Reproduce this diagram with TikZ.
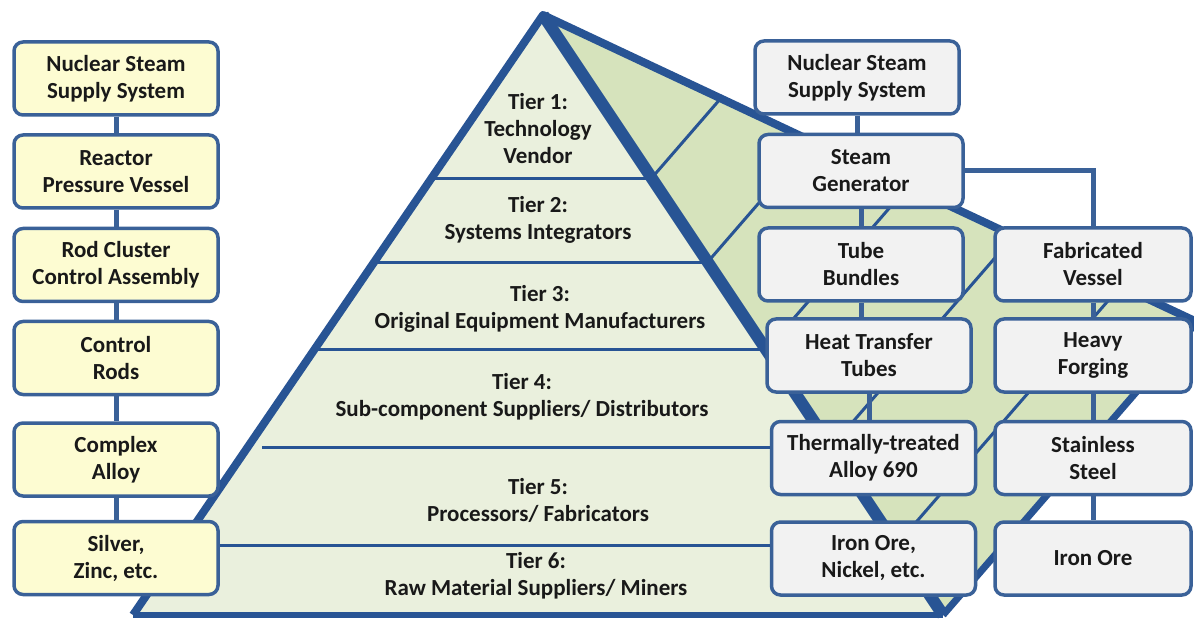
\documentclass[tikz,border=0pt]{standalone}
\usepackage{fontspec}
\setmainfont{Carlito}
\usetikzlibrary{calc}
\definecolor{edgeblue}{RGB}{40,84,148}
\definecolor{boxblue}{RGB}{58,97,152}
\definecolor{frontgreen}{RGB}{234,240,221}
\definecolor{sidegreen}{RGB}{214,227,188}
\definecolor{leftfill}{RGB}{253,252,210}
\definecolor{rightfill}{RGB}{242,242,242}
\definecolor{inktext}{RGB}{25,25,25}
\tikzset{
  partbox/.style={rectangle, draw=boxblue, line width=3.5pt, rounded corners=9pt,
    minimum width=204pt, minimum height=73pt, inner sep=0pt,
    align=center, text=inktext, font=\fontsize{23}{27}\selectfont\bfseries},
  partL/.style={partbox, fill=leftfill},
  partR/.style={partbox, fill=rightfill},
  partB/.style={partR, minimum width=196pt},
  tier label/.style={align=center, text=inktext, font=\fontsize{23}{27}\selectfont\bfseries},
  tier line/.style={draw=edgeblue, line width=3pt},
  rim/.style={draw=edgeblue, line width=8pt, line join=round},
  link/.style={draw=boxblue, line width=5pt},
}

\begin{document}
\begin{tikzpicture}[x=1pt, y=-1pt]
  \useasboundingbox[fill=white] (0,0) rectangle (1194,620);

  % pyramid corners
  \coordinate (apex) at (543,15);
  \coordinate (bl)   at (133,615);
  \coordinate (br)   at (943,615);
  \coordinate (back) at (1197,322);

  % faces
  \fill[sidegreen]  (apex) -- (back) -- (br) -- cycle;
  \fill[frontgreen] (apex) -- (bl) -- (br) -- cycle;

  % tier lines, front and side
  \foreach \t in {0.2717,0.4117,0.5583}
    \draw[tier line] ($(apex)!\t!(bl)$) -- ($(apex)!\t!(br)$);
  \foreach \t in {0.2717,0.4117,0.5583,0.72,0.8833}
    \draw[tier line] ($(apex)!\t!(br)$) -- ($(apex)!\t!(back)$);

  % rims
  \draw[rim] (bl) -- (apex) -- (back);
  \draw[rim, line width=6pt] (bl) -- (br);
  \draw[rim, line width=7pt] (br) -- (back);
  \draw[rim, line width=12pt] (apex) -- (br);

  % tier labels
  \node[tier label] (tier1) at (538,129) {Tier 1:\\Technology\\Vendor};
  \node[tier label] (tier2) at (538,220) {Tier 2:\\Systems Integrators};
  \node[tier label] (tier3) at (540,309) {Tier 3:\\Original Equipment Manufacturers};
  \node[tier label] (tier4) at (522,397) {Tier 4:\\Sub-component Suppliers/ Distributors};
  \node[tier label] (tier5) at (538,500) {Tier 5:\\Processors/ Fabricators};
  \node[tier label] (tier6) at (536,576) {Tier 6:\\Raw Material Suppliers/ Miners};

  % left chain
  \node[partL] (nsssL)  at (116,78.5)  {Nuclear Steam\\Supply System};
  \node[partL] (rpv)    at (116,171.5) {Reactor\\Pressure Vessel};
  \node[partL] (rcca)   at (116,265)   {Rod Cluster\\Control Assembly};
  \node[partL] (rods)   at (116,358)   {Control\\Rods};
  \node[partL] (alloyL) at (116,459.5) {Complex\\Alloy};
  \node[partL] (silver) at (116,558)   {Silver,\\Zinc, etc.};

  % right chain
  \node[partR] (nsssR)    at (857,77.5)   {Nuclear Steam\\Supply System};
  \node[partR] (sg)       at (861,171)    {Steam\\Generator};
  \node[partR] (tubes)    at (861,264.5)  {Tube\\Bundles};
  \node[partR] (httubes)  at (869,355.5)  {Heat Transfer\\Tubes};
  \node[partR] (alloy690) at (873.5,458)  {Thermally-treated\\Alloy 690};
  \node[partR] (oreNi)    at (873.5,558.5){Iron Ore,\\Nickel, etc.};
  \node[partB] (vessel)   at (1093,264.5) {Fabricated\\Vessel};
  \node[partB] (forging)  at (1093,355.5) {Heavy\\Forging};
  \node[partB] (steel)    at (1093,458)   {Stainless\\Steel};
  \node[partB] (ore)      at (1093,558.5) {Iron Ore};

  % lower tier lines run to the boxes
  \coordinate (t45) at (262,447);
  \coordinate (t56) at (0,545);
  \draw[tier line] (t45) -- (t45 -| alloy690.west);
  \draw[tier line] (t56 -| silver.east) -- (t56 -| oreNi.west);

  % links
  \foreach \a/\b in {nsssL/rpv, rpv/rcca, rcca/rods, rods/alloyL, alloyL/silver,
      nsssR/sg, sg/tubes, tubes/httubes, httubes/alloy690,
      vessel/forging, forging/steel, steel/ore}
    \draw[link] (\a.south) -- (\a.south |- \b.north);
  \draw[link] (sg.east) -| (vessel.north);

\end{tikzpicture}
\end{document}
